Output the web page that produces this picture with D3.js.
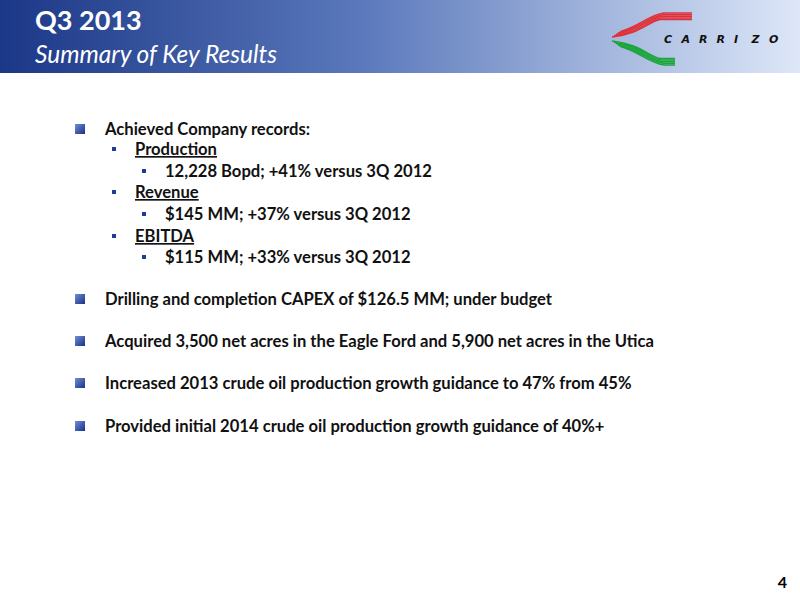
<!DOCTYPE html><html><head><meta charset="utf-8"><script src="https://cdn.jsdelivr.net/npm/d3@7"></script>
<style>body{margin:0;background:#fff}</style></head><body><svg id="s" width="800" height="600"></svg>
<script>
const title = "Q3 2013";
const subtitle = "Summary of Key Results";
const bulletTexts = ["Achieved Company records:","Production","12,228 Bopd; +41% versus 3Q 2012","Revenue","$145 MM; +37% versus 3Q 2012","EBITDA","$115 MM; +33% versus 3Q 2012","Drilling and completion CAPEX of $126.5 MM; under budget","Acquired 3,500 net acres in the Eagle Ford and 5,900 net acres in the Utica","Increased 2013 crude oil production growth guidance to 47% from 45%","Provided initial 2014 crude oil production growth guidance of 40%+"];
const bulletLevels = [0,1,2,1,2,1,2,0,0,0,0];
const bulletRows = [135,155,177,198,220,242,263,305,347,389,432];
const pageNum = "4";
const svg = d3.select("#s");
const defs = svg.append("defs");
const g = defs.append("linearGradient").attr("id","hg");
g.append("stop").attr("offset","0").attr("stop-color","#1b3787");
g.append("stop").attr("offset","0.45").attr("stop-color","#5a78bb");
g.append("stop").attr("offset","1").attr("stop-color","#dde7f8");
const bg = defs.append("linearGradient").attr("id","bb").attr("x1",0).attr("y1",0).attr("x2",1).attr("y2",1);
bg.append("stop").attr("offset","0").attr("stop-color","#6f8fd6");
bg.append("stop").attr("offset","1").attr("stop-color","#1b2f86");
svg.append("rect").attr("width",800).attr("height",73).attr("fill","url(#hg)");
const F = "Lato, 'Open Sans', sans-serif";
svg.append("text").attr("x",35).attr("y",30).attr("fill","#fff").attr("font-family",F).attr("font-weight","bold").attr("font-size",27).text(title);
svg.append("text").attr("x",35).attr("y",63).attr("fill","#fff").attr("font-family",F).attr("font-style","italic").attr("font-size",24.5).text(subtitle);
const lg = svg.append("g");
d3.range(5).forEach(i=>lg.append("path").attr("d",`M${612+i*2},${37-i*1.3} C640,${34-i*2} 648,${22-i*1.6} ${660+i},${19.5-i*1.6} L692,${19.5-i*1.6}`).attr("stroke","#e0313a").attr("stroke-width",1.5).attr("fill","none"));
d3.range(5).forEach(i=>lg.append("path").attr("d",`M${612+i*2},${41+i*1.3} C640,${44+i*2} 648,${56+i*1.6} ${660+i},${58.5+i*1.6} L675,${58.5+i*1.6}`).attr("stroke","#1aa53a").attr("stroke-width",1.5).attr("fill","none"));
"CARRIZO".split("").forEach((c,i)=>lg.append("text").attr("x",664+i*17.5).attr("y",43).attr("font-family","'DejaVu Sans',sans-serif").attr("font-weight","bold").attr("font-style","italic").attr("font-size",11).attr("fill","#111").text(c));
const xText=[105,135,165], xB=[75,112,142];
const rows = svg.selectAll("g.b").data(bulletTexts.map((t,i)=>({t,l:bulletLevels[i],y:bulletRows[i]}))).join("g");
rows.append("rect").attr("x",d=>xB[d.l]).attr("y",d=>d.l?d.y-8:d.y-11).attr("width",d=>d.l?4:10).attr("height",d=>d.l?4:10)
 .attr("fill",d=>d.l?"#1f3b9a":"url(#bb)");
rows.append("text").attr("x",d=>xText[d.l]).attr("y",d=>d.y).attr("font-family",F).attr("font-weight","bold").attr("font-size",16.6).attr("fill","#111")
 .attr("text-decoration",d=>d.l==1?"underline":null).text(d=>d.t);
svg.append("text").attr("x",787).attr("y",588).attr("text-anchor","end").attr("font-family",F).attr("font-weight","bold").attr("font-size",16).text(pageNum);
</script></body></html>
